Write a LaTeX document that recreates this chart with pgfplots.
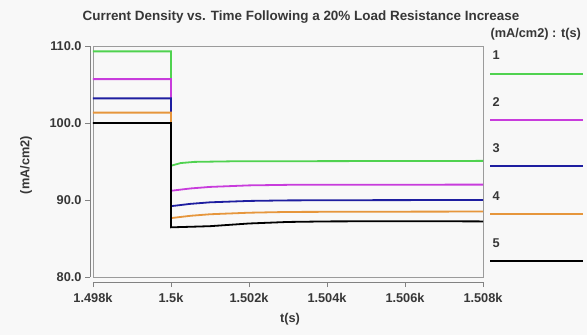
\documentclass[border=0pt]{standalone}
\usepackage{fontspec}
\setmainfont{Liberation Sans}
\usepackage{pgfplots}
\pgfplotsset{compat=1.18}
\definecolor{cgreen}{RGB}{80,210,80}
\definecolor{cmag}{RGB}{200,60,220}
\definecolor{cblue}{RGB}{30,30,160}
\definecolor{corange}{RGB}{230,150,60}
\definecolor{bgc}{RGB}{248,248,248}
\definecolor{txt}{RGB}{55,55,55}
\definecolor{axc}{RGB}{130,130,130}
\begin{document}
\begin{tikzpicture}[x=1bp,y=1bp]
\fill[bgc] (-93,-58) rectangle (494,277);
\begin{axis}[at={(0,0)},anchor=south west,scale only axis,
  width=390bp,height=231bp,
  xmin=1498,xmax=1508,ymin=80,ymax=110,
  axis x line*=bottom, axis y line*=left,
  axis x line shift=5bp, axis y line shift=3bp,
  axis line style={-,draw=axc,line width=0.8pt},
  tick style={draw=axc,line width=0.8pt},
  tick align=outside, major tick length=5bp,
  xtick={1498,1500,1502,1504,1506,1508},
  xticklabels={1.498k,1.5k,1.502k,1.504k,1.506k,1.508k},
  ytick={80,90,100,110},
  /pgf/number format/assume math mode=true,
  yticklabel style={/pgf/number format/.cd,fixed,fixed zerofill,precision=1},
  ticklabel style={font=\fontsize{12.8}{14}\selectfont\bfseries,text=txt},
  xticklabel style={yshift=-3bp},
  clip=false,
  every axis plot/.append style={line width=1.8bp, sharp plot},
]
\draw[axc!80,line width=0.8pt] (rel axis cs:0,0) rectangle (rel axis cs:1,1);
\addplot[cgreen] coordinates {(1498,109.3)(1500,109.3)(1500,94.45)(1500.25,94.8)(1500.6,94.95)(1501.5,95.02)(1503,95.04)(1508,95.08)};
\addplot[cmag] coordinates {(1498,105.7)(1500,105.7)(1500,91.2)(1500.5,91.5)(1501,91.7)(1502,91.9)(1503,91.97)(1508,92.0)};
\addplot[cblue] coordinates {(1498,103.2)(1500,103.2)(1500,89.2)(1500.5,89.5)(1501,89.7)(1502,89.88)(1503,89.95)(1505,89.98)(1508,90.0)};
\addplot[corange] coordinates {(1498,101.35)(1500,101.35)(1500,87.65)(1500.5,87.95)(1501,88.15)(1502,88.35)(1503,88.45)(1505,88.48)(1508,88.5)};
\addplot[black] coordinates {(1498,100.0)(1500,100.0)(1500,86.45)(1501,86.6)(1502,86.95)(1503,87.15)(1504,87.22)(1506,87.25)(1508,87.22)};
\end{axis}
\node[font=\fontsize{13.5}{15}\selectfont\bfseries,text=txt] at (208,260) {Current Density vs. Time Following a 20\% Load Resistance Increase};
\node[font=\fontsize{12.8}{14}\selectfont\bfseries,text=txt,rotate=90] at (-67,112) {(mA/cm2)};
\node[font=\fontsize{12.8}{14}\selectfont\bfseries,text=txt] at (197,-42) {t(s)};
\node[font=\fontsize{12.8}{14}\selectfont\bfseries,text=txt,anchor=west] at (394,243) {(mA/cm2) : t(s)};
\foreach \c/\l/\ly/\yy in {cgreen/1/222/203, cmag/2/175/157, cblue/3/129/111, corange/4/81/63, black/5/34/16}{
  \node[font=\fontsize{12.8}{14}\selectfont\bfseries,text=txt,anchor=west] at (396,\ly) {\l};
  \draw[\c,line width=1.8bp] (397,\yy) -- (490,\yy);
}
\end{tikzpicture}
\end{document}
